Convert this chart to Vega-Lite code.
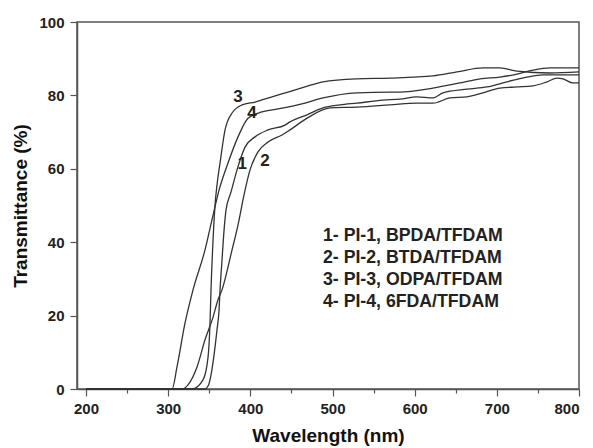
{
  "$schema": "https://vega.github.io/schema/vega-lite/v6.json",
  "width": 502,
  "height": 367,
  "autosize": "none",
  "padding": {"left": 77, "top": 22, "right": 14, "bottom": 59},
  "background": "white",
  "config": {
    "view": {"stroke": "#555", "strokeWidth": 1.5},
    "font": "Liberation Sans"
  },
  "datasets": {
    "curves": [
      {"c":"3","w":200,"t":0},{"c":"3","w":300,"t":0},{"c":"3","w":329,"t":0},{"c":"3","w":342.4,"t":2.5},{"c":"3","w":348.5,"t":8.7},{"c":"3","w":350.9,"t":18},{"c":"3","w":352.1,"t":27},{"c":"3","w":354.6,"t":40.6},{"c":"3","w":357,"t":50.1},{"c":"3","w":359.4,"t":55.6},{"c":"3","w":363.1,"t":61.6},{"c":"3","w":369.2,"t":70.6},{"c":"3","w":377.7,"t":75.2},{"c":"3","w":389.9,"t":77.4},{"c":"3","w":405.7,"t":78.2},{"c":"3","w":426.4,"t":79.6},{"c":"3","w":445.8,"t":80.9},{"c":"3","w":466.5,"t":82.3},{"c":"3","w":488.4,"t":83.7},{"c":"3","w":529.8,"t":84.5},{"c":"3","w":569.9,"t":84.7},{"c":"3","w":622.3,"t":85.3},{"c":"3","w":651.5,"t":86.4},{"c":"3","w":683.1,"t":87.5},{"c":"3","w":703.8,"t":87.5},{"c":"3","w":724.5,"t":86.6},{"c":"3","w":764.7,"t":86.1},{"c":"3","w":800,"t":86.4},
      {"c":"4","w":200,"t":0},{"c":"4","w":300,"t":0},{"c":"4","w":304.7,"t":0},{"c":"4","w":310.7,"t":6},{"c":"4","w":320.5,"t":18},{"c":"4","w":330.2,"t":27},{"c":"4","w":344.8,"t":37.9},{"c":"4","w":354.6,"t":47.4},{"c":"4","w":361.9,"t":54.2},{"c":"4","w":372.8,"t":61.6},{"c":"4","w":385,"t":68.7},{"c":"4","w":397.2,"t":73.8},{"c":"4","w":414.2,"t":75.5},{"c":"4","w":433.7,"t":76.3},{"c":"4","w":466.5,"t":77.9},{"c":"4","w":488.4,"t":79.3},{"c":"4","w":529.8,"t":80.7},{"c":"4","w":569.9,"t":80.9},{"c":"4","w":582,"t":80.9},{"c":"4","w":622.3,"t":82},{"c":"4","w":655.2,"t":83.4},{"c":"4","w":679.5,"t":84.5},{"c":"4","w":703.8,"t":85},{"c":"4","w":724.5,"t":85.8},{"c":"4","w":744,"t":86.9},{"c":"4","w":764.7,"t":87.5},{"c":"4","w":800,"t":87.5},
      {"c":"1","w":200,"t":0},{"c":"1","w":300,"t":0},{"c":"1","w":344.8,"t":0},{"c":"1","w":348.5,"t":0.8},{"c":"1","w":352.1,"t":3.8},{"c":"1","w":355.8,"t":9.3},{"c":"1","w":359.4,"t":16.1},{"c":"1","w":361.9,"t":21.5},{"c":"1","w":363.1,"t":27},{"c":"1","w":365.5,"t":35.1},{"c":"1","w":368,"t":43.3},{"c":"1","w":370.4,"t":48.8},{"c":"1","w":376.5,"t":53.7},{"c":"1","w":383.8,"t":59.7},{"c":"1","w":393.5,"t":65.9},{"c":"1","w":405.7,"t":68.7},{"c":"1","w":421.5,"t":70.6},{"c":"1","w":442.2,"t":71.9},{"c":"1","w":448.3,"t":72.8},{"c":"1","w":469,"t":74.7},{"c":"1","w":488.4,"t":76.6},{"c":"1","w":509.1,"t":77.4},{"c":"1","w":529.8,"t":77.9},{"c":"1","w":561.4,"t":78.7},{"c":"1","w":582.1,"t":79},{"c":"1","w":602.8,"t":79.6},{"c":"1","w":622.3,"t":79.3},{"c":"1","w":634.5,"t":80.7},{"c":"1","w":663.7,"t":81.7},{"c":"1","w":688,"t":82.3},{"c":"1","w":712.4,"t":83.7},{"c":"1","w":736.7,"t":85},{"c":"1","w":756.2,"t":85.6},{"c":"1","w":800,"t":85.6},
      {"c":"2","w":200,"t":0},{"c":"2","w":300,"t":0},{"c":"2","w":318,"t":0},{"c":"2","w":324.1,"t":1.1},{"c":"2","w":335.1,"t":6},{"c":"2","w":344.8,"t":13.4},{"c":"2","w":354.6,"t":19.6},{"c":"2","w":360.6,"t":24.3},{"c":"2","w":365.5,"t":27},{"c":"2","w":377.7,"t":37.9},{"c":"2","w":385,"t":44.7},{"c":"2","w":392.3,"t":52.9},{"c":"2","w":399.6,"t":59.7},{"c":"2","w":409.3,"t":64.6},{"c":"2","w":421.5,"t":67.3},{"c":"2","w":438.5,"t":69.2},{"c":"2","w":448.3,"t":70.6},{"c":"2","w":469,"t":73.8},{"c":"2","w":497,"t":76.6},{"c":"2","w":529.8,"t":76.8},{"c":"2","w":569.9,"t":77.4},{"c":"2","w":602.8,"t":77.9},{"c":"2","w":622.3,"t":77.9},{"c":"2","w":643,"t":79.3},{"c":"2","w":663.7,"t":79.6},{"c":"2","w":683.1,"t":80.7},{"c":"2","w":703.8,"t":82},{"c":"2","w":724.5,"t":82.3},{"c":"2","w":744,"t":82.6},{"c":"2","w":761,"t":83.7},{"c":"2","w":773.2,"t":84.7},{"c":"2","w":780.5,"t":84.5},{"c":"2","w":792.7,"t":83.4},{"c":"2","w":800,"t":83.4}
    ],
    "curveLabels": [
      {"lab":"3","w":385,"t":79.6},
      {"lab":"4","w":402,"t":75.2},
      {"lab":"1","w":390,"t":61.3},
      {"lab":"2","w":417.8,"t":62.1}
    ],
    "legendText": [
      {"txt":"1- PI-1, BPDA/TFDAM","w":488.4,"t":41.7},
      {"txt":"2- PI-2, BTDA/TFDAM","w":488.4,"t":35.7},
      {"txt":"3- PI-3, ODPA/TFDAM","w":488.4,"t":29.7},
      {"txt":"4- PI-4, 6FDA/TFDAM","w":488.4,"t":23.7}
    ]
  },
  "layer": [
    {
      "data": {"name": "curves"},
      "mark": {"type": "line", "stroke": "#333", "strokeWidth": 1.3, "interpolate": "monotone"},
      "encoding": {
        "x": {
          "field": "w", "type": "quantitative",
          "scale": {"domain": [189, 800], "nice": false, "zero": false},
          "axis": {
            "title": "Wavelength (nm)",
            "values": [200,250,300,350,400,450,500,550,600,650,700,750,800],
            "labelExpr": "datum.value % 100 === 0 ? datum.label : ''",
            "tickSize": {"condition": {"test": "datum.value % 100 === 0", "value": 7}, "value": 4},
            "grid": false,
            "domainColor": "#555", "domainWidth": 1.5,
            "tickColor": "#555", "tickWidth": 1.2,
            "labelFont": "Liberation Sans", "labelFontSize": 15, "labelFontWeight": "bold", "labelColor": "#222",
            "labelPadding": 5,
            "titleFont": "Liberation Sans", "titleFontSize": 19, "titleFontWeight": "bold", "titleColor": "#111",
            "titlePadding": 10
          }
        },
        "y": {
          "field": "t", "type": "quantitative",
          "scale": {"domain": [0, 100], "nice": false},
          "axis": {
            "title": "Transmittance (%)",
            "values": [0,10,20,30,40,50,60,70,80,90,100],
            "labelExpr": "datum.value % 20 === 0 ? datum.label : ''",
            "tickSize": {"condition": {"test": "datum.value % 20 === 0", "value": 7}, "value": 4},
            "grid": false,
            "domainColor": "#555", "domainWidth": 1.5,
            "tickColor": "#555", "tickWidth": 1.2,
            "labelFont": "Liberation Sans", "labelFontSize": 15, "labelFontWeight": "bold", "labelColor": "#222",
            "labelPadding": 6,
            "titleFont": "Liberation Sans", "titleFontSize": 19, "titleFontWeight": "bold", "titleColor": "#111",
            "titlePadding": 8
          }
        },
        "detail": {"field": "c"}
      }
    },
    {
      "data": {"name": "curveLabels"},
      "mark": {"type": "text", "font": "Liberation Sans", "fontSize": 17, "fontWeight": "bold", "color": "#222", "baseline": "middle", "align": "center"},
      "encoding": {
        "x": {"field": "w", "type": "quantitative"},
        "y": {"field": "t", "type": "quantitative"},
        "text": {"field": "lab"}
      }
    },
    {
      "data": {"name": "legendText"},
      "mark": {"type": "text", "font": "Liberation Sans", "fontSize": 17.7, "fontWeight": "bold", "color": "#222", "baseline": "middle", "align": "left"},
      "encoding": {
        "x": {"field": "w", "type": "quantitative"},
        "y": {"field": "t", "type": "quantitative"},
        "text": {"field": "txt"}
      }
    }
  ]
}
